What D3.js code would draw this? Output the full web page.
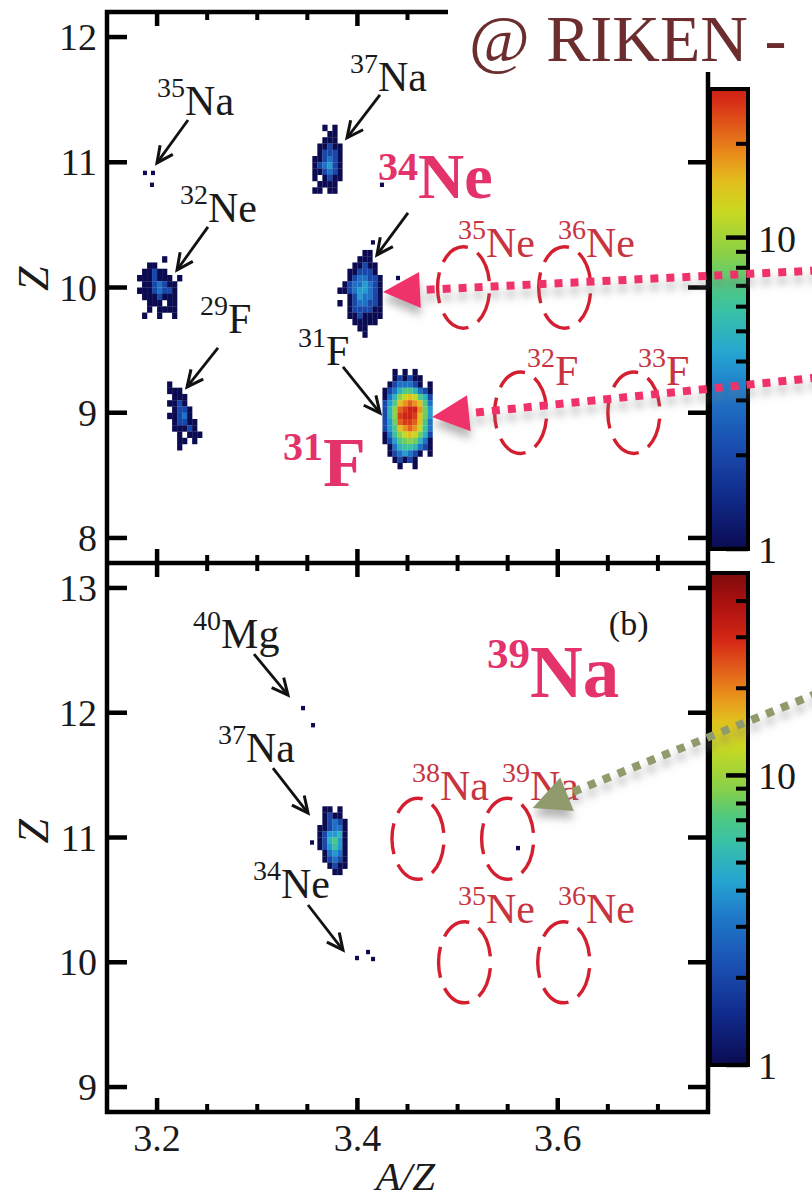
<!DOCTYPE html>
<html><head><meta charset="utf-8">
<script src="https://cdn.jsdelivr.net/npm/d3@7"></script>
<style>body{margin:0;background:#fff}svg{display:block}</style>
</head><body>
<svg id="c" width="812" height="1202"></svg>
<script>
// ---------------- DATA ----------------
const xDomain = [3.15, 3.75];
const topZDomain = [7.8, 12.2];
const botZDomain = [8.8, 13.2];
const xMajorTicks = [3.2, 3.4, 3.6];
const xMinorTicks = [3.25, 3.3, 3.35, 3.45, 3.5, 3.55, 3.65, 3.7];
const topZTicks = [8, 9, 10, 11, 12];
const botZTicks = [9, 10, 11, 12, 13];
const topColorMax = 30, botColorMax = 50;
const cbarMajor = [1, 10];
const topCbarMinor = [2, 3, 4, 5, 6, 7, 8, 9, 20, 30];
const botCbarMinor = [2, 3, 4, 5, 6, 7, 8, 9, 20, 30, 40];
const binSize = [0.005, 0.05];               // A/Z, Z bin widths
const countChars = ".123456789abcdef";
const countValues = [0, 1, 2, 3, 4, 5, 6, 7, 8, 9, 12, 15, 18, 22, 26, 30];

// clusters: origin = [A/Z of first column, Z lower edge of first row]
const f31Origin = [3.425, 9.30];
const f31Rows = [
  "..1.1.1...",
  "..121211..",
  ".1233321.1",
  "1235775321",
  "1359aba752",
  "247bcdcb73",
  "259deffc84",
  "259effeb84",
  "248deedb73",
  "247bcdca63",
  "1369aba852",
  "1247898531",
  ".135665321",
  ".1234321.1",
  "..12121...",
  "...1..1..."
];
const ne34Origin = [3.380, 10.25];
const ne34Rows = [
  ".....11..",
  "....111..",
  "...11211.",
  "..112221.",
  "..1233221",
  ".12334321",
  "112344321",
  "..1243321",
  "1.1233221",
  "..1222211",
  "..1121111",
  "...11111.",
  "....11...",
  ".....1..."
];
const na37TopOrigin = [3.355, 11.25];
const na37TopRows = [
  "..1.1.",
  "...11.",
  "..111.",
  ".11211",
  ".12221",
  "112321",
  "123421",
  "112321",
  "1.1211",
  ".1111.",
  "11.11."
];
const ne32Origin = [3.180, 10.20];
const ne32Rows = [
  ".....1...",
  "..11.....",
  ".11211...",
  "1112111.1",
  ".1123211.",
  "11123221.",
  ".1112111.",
  "..111.11.",
  "..1.1111.",
  ".1..1..1."
];
const f29Origin = [3.205, 9.20];
const f29Rows = [
  ".1......",
  ".111....",
  "..111...",
  ".1121...",
  "..1221..",
  ".11231..",
  "..12211.",
  "..11121.",
  "...1.111",
  "...11.1.",
  "...1...."
];
const na37BotOrigin = [3.360, 11.20];
const na37BotRows = [
  ".11.1.",
  ".1211.",
  ".12321",
  "112331",
  "124451",
  "125741",
  "124641",
  ".13431",
  ".12321",
  "..1211",
  "...11."
];
// isolated counts [A/Z, Z, count]
const topStrays = [[3.1879,10.915,1],[3.1959,10.915,1],[3.1949,10.82,1],[3.4155,10.36,1],[3.4405,10.076,1],[3.4245,10.82,1]];
const botStrays = [[3.3457,12.037,1],[3.3557,11.90,1],[3.3996,10.034,1],[3.4106,10.082,1],[3.4156,10.026,1],[3.5603,10.915,1],[3.3547,10.96,1]];

// expected-position ellipses [A/Z, Z]
const ellipseRadii = [0.026, 0.325];
const topEllipses = [[3.506,10.0],[3.607,10.0],[3.563,9.0],[3.676,9.0]];
const botEllipses = [[3.4605,10.99],[3.550,10.99],[3.507,10.0],[3.606,10.0]];

// labels [mass, symbol, A/Z, Z baseline]
const topBlackLabels = [["35","Na",3.200,11.378],["37","Na",3.3926,11.57],["32","Ne",3.2229,10.524],["29","F",3.2428,9.637],["31","F",3.3407,9.381]];
const botBlackLabels = [["40","Mg",3.2359,12.518],["37","Na",3.2608,11.604],["34","Ne",3.2958,10.515]];
const topRedLabels = [["35","Ne",3.5004,10.244],["36","Ne",3.6002,10.244],["32","F",3.5693,9.222],["33","F",3.680,9.222]];
const botRedLabels = [["38","Na",3.4545,11.30],["39","Na",3.5443,11.30],["35","Ne",3.5004,10.314],["36","Ne",3.6002,10.314]];
// black arrows [from A/Z, from Z, tip A/Z, tip Z]
const topBlackArrows = [[3.2309,11.338,3.1999,10.995],[3.2508,10.484,3.2199,10.140],[3.2608,9.517,3.2299,9.206],[3.4225,11.538,3.3896,11.195],[3.4505,10.596,3.4195,10.260],[3.3856,9.366,3.4225,8.998]];
const botBlackArrows = [[3.2968,12.47,3.3307,12.141],[3.3157,11.556,3.3507,11.196],[3.3507,10.459,3.3856,10.098]];
// highlighted labels [mass, symbol, A/Z, Z baseline, panel]
const pinkLabels = [["34","Ne",3.4205,10.715,"top"],["31","F",3.3257,8.415,"top"],["39","Na",3.5293,12.125,"bot"]];
// dotted annotation arrows [from A/Z, from Z, tip A/Z, tip Z]
const topPinkArrows = [[3.86,10.136,3.4255,9.965],[3.86,9.281,3.4745,8.966]];
const botGreenArrows = [[3.86,12.158,3.575,11.236]];

// ---------------- RENDER ----------------
const svg = d3.select("#c");
const FONT = "'Liberation Serif','Times New Roman',serif";
const x = d3.scaleLinear().domain(xDomain).range([107, 708]);
const yT = d3.scaleLinear().domain(topZDomain).range([563, 12]);
const yB = d3.scaleLinear().domain(botZDomain).range([1112, 563]);

const cmap = d3.scaleLinear()
  .domain([0,0.1,0.2,0.3,0.376,0.45,0.5,0.56,0.646,0.7,0.756,0.8,0.86,0.93,1])
  .range(["#0b0b52","#102a8a","#1a4fb2","#1f78c8","#25a6d2","#38c0a8","#4cc884","#86d04a","#cad820","#e2c01e","#e98c1a","#e2621a","#d62a16","#b01210","#7e0c0c"])
  .interpolate(d3.interpolateRgb).clamp(true);
const topSpan = 0.88, botSpan = 1.0;
const colorTop = v => cmap(topSpan * Math.log(v) / Math.log(topColorMax));
const colorBot = v => cmap(botSpan * Math.log(v) / Math.log(botColorMax));

const defs = svg.append("defs");
defs.append("clipPath").attr("id","clipT").append("rect")
  .attr("x", x.range()[0]).attr("y", yT.range()[1]).attr("width", x.range()[1]-x.range()[0]).attr("height", yT.range()[0]-yT.range()[1]);
defs.append("clipPath").attr("id","clipB").append("rect")
  .attr("x", x.range()[0]).attr("y", yB.range()[1]).attr("width", x.range()[1]-x.range()[0]).attr("height", yB.range()[0]-yB.range()[1]);
const sh = defs.append("filter").attr("id","shadow").attr("x","-10%").attr("y","-50%").attr("width","120%").attr("height","250%");
sh.append("feDropShadow").attr("dx",0).attr("dy",8).attr("stdDeviation",4).attr("flood-color","#7a7a7a").attr("flood-opacity",0.55);

svg.append("rect").attr("width",812).attr("height",1202).attr("fill","#fff");

const [da, dz] = binSize;
function drawCluster(g, y, color, origin, rows) {
  rows.forEach((row, r) => {
    const z = origin[1] - r * dz;
    [...row].forEach((ch, c) => {
      const v = countValues[countChars.indexOf(ch)];
      if (!v) return;
      const a = origin[0] + c * da;
      g.append("rect").attr("x", x(a)).attr("y", y(z + dz))
        .attr("width", x(a + da) - x(a) + 0.2).attr("height", y(z) - y(z + dz) + 0.2)
        .attr("fill", color(v));
    });
  });
}
function drawStrays(g, y, color, pts) {
  g.selectAll(null).data(pts).enter().append("rect")
    .attr("x", d => x(d[0] - da*0.4)).attr("y", d => y(d[1] + dz*0.35))
    .attr("width", d => x(d[0] + da*0.4) - x(d[0] - da*0.4))
    .attr("height", d => y(d[1] - dz*0.35) - y(d[1] + dz*0.35))
    .attr("fill", d => color(d[2]));
}
const gT = svg.append("g").attr("clip-path","url(#clipT)");
const gB = svg.append("g").attr("clip-path","url(#clipB)");
drawCluster(gT, yT, colorTop, f31Origin, f31Rows);
drawCluster(gT, yT, colorTop, ne34Origin, ne34Rows);
drawCluster(gT, yT, colorTop, na37TopOrigin, na37TopRows);
drawCluster(gT, yT, colorTop, ne32Origin, ne32Rows);
drawCluster(gT, yT, colorTop, f29Origin, f29Rows);
drawStrays(gT, yT, colorTop, topStrays);
drawCluster(gB, yB, colorBot, na37BotOrigin, na37BotRows);
drawStrays(gB, yB, colorBot, botStrays);

// ellipses
function drawEllipses(g, y, list) {
  g.selectAll(null).data(list).enter().append("ellipse")
    .attr("cx", d => x(d[0])).attr("cy", d => y(d[1]))
    .attr("rx", d => x(d[0] + ellipseRadii[0]) - x(d[0]))
    .attr("ry", d => y(d[1]) - y(d[1] + ellipseRadii[1]))
    .attr("fill","none").attr("stroke","#d41f30").attr("stroke-width",3.4)
    .attr("stroke-dasharray","31,11").attr("stroke-dashoffset",-6);
}
drawEllipses(svg, yT, topEllipses);
drawEllipses(svg, yB, botEllipses);

// isotope labels
function isoLabel(g, d, y, color, supSize, symSize, raise, weight) {
  const t = g.append("text").attr("x", x(d[2])).attr("y", y(d[3]))
    .attr("font-family", FONT).attr("fill", color).attr("font-weight", weight || "normal");
  t.append("tspan").attr("font-size", supSize).attr("dy", -raise).text(d[0]);
  t.append("tspan").attr("font-size", symSize).attr("dy", raise).text(d[1]);
}
topBlackLabels.forEach(d => isoLabel(svg, d, yT, "#1a1a1a", 28, 42, 18));
botBlackLabels.forEach(d => isoLabel(svg, d, yB, "#1a1a1a", 28, 42, 18));
topRedLabels.forEach(d => isoLabel(svg, d, yT, "#c8343f", 28, 42, 18));
botRedLabels.forEach(d => isoLabel(svg, d, yB, "#c8343f", 28, 42, 18));

// black arrows
function blackArrow(g, y, d) {
  const x1 = x(d[0]), y1 = y(d[1]), x2 = x(d[2]), y2 = y(d[3]);
  const ang = Math.atan2(y2 - y1, x2 - x1);
  g.append("line").attr("x1",x1).attr("y1",y1).attr("x2",x2).attr("y2",y2)
    .attr("stroke","#111").attr("stroke-width",2.8);
  const L = 18, spread = 0.45;
  const p = [ang + Math.PI - spread, ang + Math.PI + spread].map(t => [x2 + L*Math.cos(t), y2 + L*Math.sin(t)]);
  g.append("path").attr("d", `M${p[0]}L${x2},${y2}L${p[1]}`).attr("fill","none")
    .attr("stroke","#111").attr("stroke-width",3).attr("stroke-linejoin","miter");
}
topBlackArrows.forEach(d => blackArrow(svg, yT, d));
botBlackArrows.forEach(d => blackArrow(svg, yB, d));

// (b)
svg.append("text").attr("x", x(3.651)).attr("y", yB(12.62)).attr("font-family",FONT)
  .attr("font-size",34).attr("fill","#1a1a1a").text("(b)");

// frame and ticks
const ax = svg.append("g").attr("stroke","#000");
const [xl, xr] = x.range();
ax.append("rect").attr("x", xl).attr("y", yT.range()[1]).attr("width", xr - xl)
  .attr("height", yB.range()[0] - yT.range()[1]).attr("fill","none").attr("stroke-width",4.5);
ax.append("line").attr("x1", xl).attr("x2", xr).attr("y1", yT.range()[0]).attr("y2", yT.range()[0]).attr("stroke-width",4.5);
function xTicks(yPix, dir) {
  xMajorTicks.forEach(v => ax.append("line").attr("x1",x(v)).attr("x2",x(v)).attr("y1",yPix).attr("y2",yPix+dir*14).attr("stroke-width",4.5));
  xMinorTicks.forEach(v => ax.append("line").attr("x1",x(v)).attr("x2",x(v)).attr("y1",yPix).attr("y2",yPix+dir*8).attr("stroke-width",4));
}
xTicks(yT.range()[1], 1); xTicks(yT.range()[0], -1); xTicks(yB.range()[1], 1); xTicks(yB.range()[0], -1);
function yTicks(y, ticks) {
  ticks.forEach(v => {
    ax.append("line").attr("x1",xl).attr("x2",xl+20).attr("y1",y(v)).attr("y2",y(v)).attr("stroke-width",4.5);
    ax.append("line").attr("x1",xr).attr("x2",xr-20).attr("y1",y(v)).attr("y2",y(v)).attr("stroke-width",4.5);
  });
  svg.append("g").selectAll(null).data(ticks).enter().append("text")
    .attr("x", xl - 10).attr("y", v => y(v) + 13).attr("text-anchor","end")
    .attr("font-family",FONT).attr("font-size",38).attr("fill","#1a1a1a").text(v => v);
}
yTicks(yT, topZTicks); yTicks(yB, botZTicks);
svg.append("g").selectAll(null).data(xMajorTicks).enter().append("text")
  .attr("x", v => x(v)).attr("y", yB.range()[0] + 39).attr("text-anchor","middle")
  .attr("font-family",FONT).attr("font-size",38).attr("fill","#1a1a1a").text(v => v.toFixed(1));
svg.append("text").attr("x", x(3.4) + 48).attr("y", yB.range()[0] + 78).attr("text-anchor","middle")
  .attr("font-family",FONT).attr("font-style","italic").attr("font-size",41).attr("fill","#1a1a1a").text("A/Z");
[[yT, 10.07],[yB, 11.05]].forEach(([y, zc]) => {
  svg.append("text").attr("transform", `translate(48,${y(zc)}) rotate(-90)`).attr("text-anchor","middle")
    .attr("font-family",FONT).attr("font-style","italic").attr("font-size",44).attr("fill","#1a1a1a").text("Z");
});

// colorbars
function colorbar(id, span, scale, minor) {
  const grad = defs.append("linearGradient").attr("id", id).attr("x1",0).attr("y1",1).attr("x2",0).attr("y2",0);
  d3.range(0, 1.0001, 0.02).forEach(t => grad.append("stop").attr("offset", t).attr("stop-color", cmap(t * span)));
  const [b, t] = scale.range();
  svg.append("rect").attr("x", 710).attr("y", t).attr("width", 38).attr("height", b - t)
    .attr("fill", `url(#${id})`).attr("stroke","#000").attr("stroke-width",4);
  cbarMajor.forEach(v => svg.append("line").attr("x1",748).attr("x2",726).attr("y1",scale(v)).attr("y2",scale(v)).attr("stroke","#000").attr("stroke-width",4.5));
  minor.forEach(v => svg.append("line").attr("x1",748).attr("x2",736).attr("y1",scale(v)).attr("y2",scale(v)).attr("stroke","#000").attr("stroke-width",4));
  cbarMajor.forEach(v => svg.append("text").attr("x", 758).attr("y", scale(v) + 14)
    .attr("font-family",FONT).attr("font-size",38).attr("fill","#1a1a1a").text(v));
}
colorbar("gT", topSpan, d3.scaleLog().domain([1, topColorMax]).range([549, 89]), topCbarMinor);
colorbar("gB", botSpan, d3.scaleLog().domain([1, botColorMax]).range([1065, 573]), botCbarMinor);

// dotted annotation arrows
function dottedArrow(y, d, color, dot) {
  const x1 = x(d[0]), y1 = y(d[1]), x2 = x(d[2]), y2 = y(d[3]);
  const ang = Math.atan2(y2 - y1, x2 - x1);
  const L = 37, W = 18;
  const bx = x2 - L*Math.cos(ang), by = y2 - L*Math.sin(ang);
  const g = svg.append("g").attr("filter","url(#shadow)");
  g.append("line").attr("x1",x1).attr("y1",y1).attr("x2",bx).attr("y2",by)
    .attr("stroke",color).attr("stroke-width",dot).attr("stroke-dasharray",`${dot},${dot}`);
  const nx = -Math.sin(ang), ny = Math.cos(ang);
  g.append("path").attr("d", `M${x2},${y2}L${bx + W*nx},${by + W*ny}L${bx - W*nx},${by - W*ny}Z`).attr("fill", color);
}
topPinkArrows.forEach(d => dottedArrow(yT, d, "#f0336a", 8));
botGreenArrows.forEach(d => dottedArrow(yB, d, "#8f9b6c", 8));

// highlighted labels
const pinkStyle = {"34": [40, 64, 18], "31": [40, 70, 26], "39": [43, 73, 29]};
pinkLabels.forEach(d => {
  const s = pinkStyle[d[0]];
  isoLabel(svg, d, d[4] === "top" ? yT : yB, "#e3336a", s[0], s[1], s[2], "bold");
});

// header
svg.append("rect").attr("x", 448).attr("y", 0).attr("width", 364).attr("height", 72).attr("fill","#fff");
svg.append("text").attr("x", 469).attr("y", 61).attr("font-family",FONT).attr("font-size",66)
  .attr("fill","#6b2d2d").text("@ RIKEN -");
</script>
</body></html>
